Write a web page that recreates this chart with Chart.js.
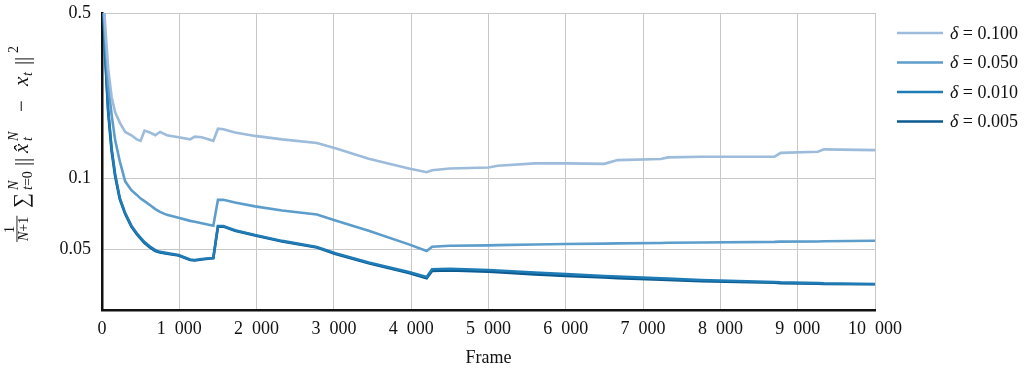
<!DOCTYPE html>
<html>
<head>
<meta charset="utf-8">
<script src="https://cdn.jsdelivr.net/npm/chart.js@4"></script>
<style>
  html, body { margin: 0; padding: 0; background: #fff; }
  #wrap { width: 1033px; height: 372px; }
</style>
</head>
<body>
<div id="wrap"><canvas id="myChart" width="1033" height="372"></canvas></div>
<script>
// frame numbers where the curves were sampled
const frames = [0, 40, 80, 125, 170, 230, 300, 380, 450, 500, 550, 620, 690, 750, 840, 990, 1140, 1200, 1290, 1440,
  1500, 1570, 1720, 1980, 2330, 2780, 3020, 3450, 3970, 4200, 4270, 4500, 5000, 5120, 5600, 6000, 6500, 6670, 7230,
  7320, 7750, 8700, 8780, 9260, 9340, 10000];

const deltas = ["0.100", "0.050", "0.010", "0.005"];

const err100 = [0.75, 0.45, 0.29, 0.22, 0.19, 0.172, 0.157, 0.152, 0.146, 0.144, 0.159, 0.156, 0.152, 0.157, 0.152,
  0.149, 0.146, 0.150, 0.149, 0.144, 0.162, 0.161, 0.156, 0.151, 0.146, 0.141, 0.134, 0.121, 0.110, 0.106, 0.108,
  0.110, 0.111, 0.113, 0.1155, 0.1155, 0.115, 0.1193, 0.1205, 0.1225, 0.1233, 0.1233, 0.128, 0.1295, 0.1325, 0.1315];
const err050 = [0.75, 0.40, 0.25, 0.185, 0.145, 0.118, 0.097, 0.089, 0.085, 0.082, 0.080, 0.077, 0.074, 0.072, 0.070,
  0.068, 0.066, 0.0655, 0.0645, 0.063, 0.081, 0.081, 0.079, 0.076, 0.073, 0.0702, 0.0662, 0.060, 0.0525, 0.0492,
  0.0513, 0.0518, 0.052, 0.0521, 0.0524, 0.0527, 0.0529, 0.053, 0.0532, 0.0533, 0.0535, 0.0538, 0.0539, 0.054,
  0.0541, 0.0544];
const err010 = [0.75, 0.34, 0.195, 0.133, 0.104, 0.0825, 0.0712, 0.063, 0.0585, 0.056, 0.0537, 0.0514, 0.0496, 0.0488,
  0.0482, 0.0473, 0.0453, 0.0451, 0.0455, 0.046, 0.0628, 0.0628, 0.0603, 0.0575, 0.0543, 0.0512, 0.0481, 0.044,
  0.0401, 0.0382, 0.0412, 0.0414, 0.0409, 0.0407, 0.0399, 0.0393, 0.0386, 0.0384, 0.0377, 0.0376, 0.0371, 0.0364,
  0.0363, 0.036, 0.0359, 0.0357];
const err005 = [0.75, 0.33, 0.19, 0.13, 0.102, 0.0815, 0.0705, 0.0625, 0.058, 0.0555, 0.0532, 0.051, 0.0492, 0.0485,
  0.0479, 0.0471, 0.0451, 0.0449, 0.0453, 0.0459, 0.0624, 0.0624, 0.060, 0.0572, 0.054, 0.0509, 0.0478, 0.0437,
  0.0397, 0.0377, 0.0405, 0.0407, 0.0402, 0.0400, 0.0392, 0.0386, 0.038, 0.0378, 0.0372, 0.0371, 0.0367, 0.0361,
  0.036, 0.0358, 0.0357, 0.0356];

const yTicks = [0.05, 0.1, 0.5];
const xTicks = [0, 1000, 2000, 3000, 4000, 5000, 6000, 7000, 8000, 9000, 10000];

const colores = ["#9dbbdb", "#5d9dcb", "#1f7bb6", "#0b5a90"];
const FONT = "'Liberation Serif', 'DejaVu Serif', serif";

function toPoints(vals) {
  return frames.map((f, i) => ({ x: f, y: vals[i] }));
}

function fmtMiles(v) {
  if (v < 1000) return String(v);
  return Math.floor(v / 1000) + "\u2002" + String(v % 1000).padStart(3, "0");
}

// eje y: etiqueta matematica dibujada a mano (rotada)
const yLabelPlugin = {
  id: "yLabel",
  afterDraw(chart) {
    const ctx = chart.ctx;
    ctx.save();
    ctx.translate(28, 244);
    ctx.rotate(-Math.PI / 2);
    ctx.fillStyle = "#111";
    ctx.textBaseline = "alphabetic";
    ctx.textAlign = "left";
    const big = "21px " + FONT, bigI = "italic 21px " + FONT;
    const sm = "14px " + FONT, smI = "italic 14px " + FONT;
    const put = (txt, font, x, y) => { ctx.font = font; ctx.fillText(txt, x, y); return x + ctx.measureText(txt).width; };
    // fraccion 1/(N+1)
    let x = put("N", smI, 3, 0);
    x = put("+1", sm, x, 0);
    ctx.fillRect(2, -11.5, x - 1, 0.9);
    ctx.font = sm;
    put("1", sm, 2 + (x - 2 - ctx.measureText("1").width) / 2, -14);
    // sumatorio con limites
    put("\u2211", big, 36, 0);
    put("N", smI, 54, -10);
    x = put("t", smI, 54, 4);
    put("=0", sm, x, 4);
    // ||x^_t^N - x_t||^2
    put("|", big, 78, 1);
    put("|", big, 82, 1);
    put("x\u0302", bigI, 91, 0);
    put("N", smI, 103, -10);
    put("t", smI, 103, 4);
    put("\u2212", big, 132, 0);
    put("x", bigI, 158, 0);
    put("t", smI, 168, 4);
    put("|", big, 179, 1);
    put("|", big, 183, 1);
    put("2", sm, 191, -10);
    ctx.restore();
  }
};

// leyenda a la derecha
const legendPlugin = {
  id: "legendDerecha",
  afterDraw(chart) {
    const ctx = chart.ctx;
    ctx.save();
    chart.data.datasets.forEach((ds, i) => {
      const y = 33 + i * 29.5;
      ctx.strokeStyle = ds.borderColor;
      ctx.lineWidth = 2.5;
      ctx.beginPath();
      ctx.moveTo(897, y);
      ctx.lineTo(943, y);
      ctx.stroke();
      ctx.fillStyle = "#111";
      ctx.textBaseline = "middle";
      ctx.font = "italic 18px " + FONT;
      ctx.fillText("\u03b4", 950, y + 1);
      const w = ctx.measureText("\u03b4").width;
      ctx.font = "18px " + FONT;
      ctx.fillText(" = " + deltas[i], 950 + w, y + 1);
    });
    ctx.restore();
  }
};

const series = [err100, err050, err010, err005];

new Chart(document.getElementById("myChart"), {
  type: "line",
  data: {
    datasets: series.map((s, i) => ({
      label: "\u03b4 = " + deltas[i],
      data: toPoints(s),
      borderColor: colores[i],
      backgroundColor: colores[i],
      borderWidth: 2.6,
      pointRadius: 0,
      tension: 0,
      fill: false
    }))
  },
  options: {
    responsive: false,
    animation: false,
    events: [],
    layout: { padding: { top: 13, right: 158, bottom: 0, left: 0 } },
    plugins: { legend: { display: false }, tooltip: { enabled: false } },
    scales: {
      x: {
        type: "linear",
        min: 0,
        max: 10000,
        afterBuildTicks: scale => { scale.ticks = xTicks.map(v => ({ value: v })); },
        afterFit: scale => { scale.height = 62; scale.paddingLeft = 0; scale.paddingRight = 0; },
        grid: { color: "#c8c8c8", lineWidth: 1, drawTicks: false },
        border: { color: "#111", width: 2.5 },
        ticks: {
          color: "#111",
          padding: 8,
          maxRotation: 0,
          font: { family: FONT, size: 18 },
          callback: v => fmtMiles(v)
        },
        title: {
          display: true,
          text: "Frame",
          color: "#111",
          font: { family: FONT, size: 18 },
          padding: { top: 0, bottom: 3 }
        }
      },
      y: {
        type: "logarithmic",
        min: 0.0277,
        max: 0.5,
        afterBuildTicks: scale => { scale.ticks = yTicks.map(v => ({ value: v })); },
        afterFit: scale => { scale.width = 102; scale.paddingTop = 0; scale.paddingBottom = 0; },
        grid: { color: "#c8c8c8", lineWidth: 1, drawTicks: false },
        border: { color: "#111", width: 2.5 },
        ticks: {
          color: "#111",
          padding: 11,
          font: { family: FONT, size: 18 },
          callback: v => String(v)
        }
      }
    }
  },
  plugins: [yLabelPlugin, legendPlugin]
});
</script>
</body>
</html>
